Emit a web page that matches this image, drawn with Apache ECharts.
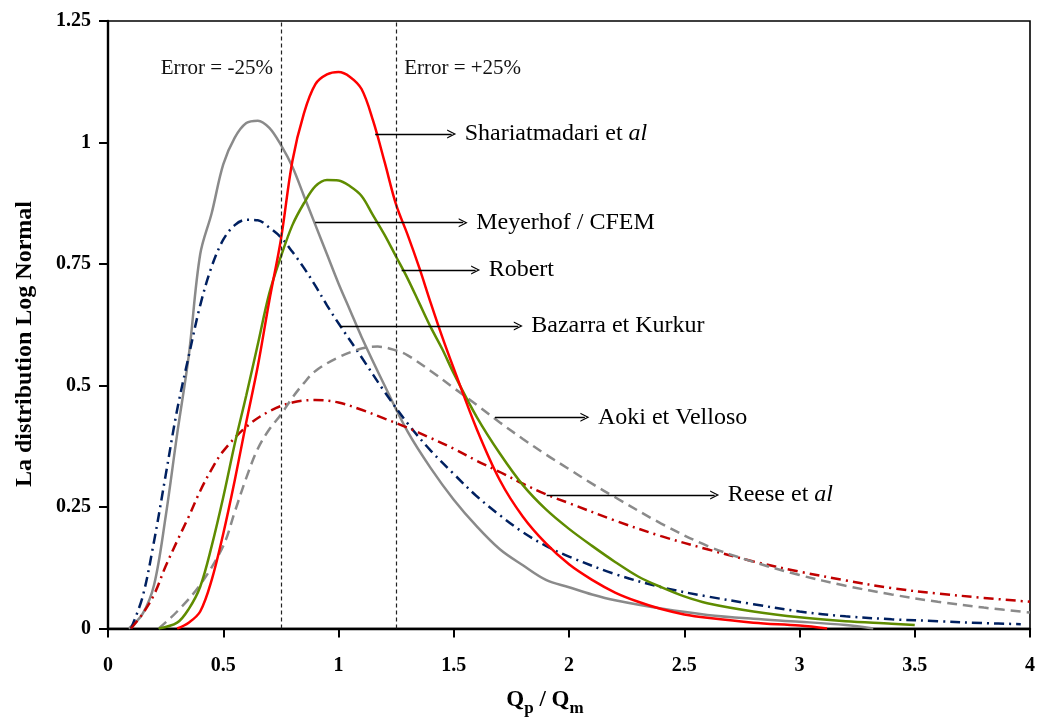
<!DOCTYPE html>
<html>
<head>
<meta charset="utf-8">
<script src="https://cdn.jsdelivr.net/npm/echarts@6/dist/echarts.min.js"></script>
<style>
html, body { margin: 0; padding: 0; background: #fff; }
#chart { width: 1038px; height: 720px; }
</style>
</head>
<body>
<div id="chart"></div>
<script>
// Meyerhof / CFEM (gris, trait plein)
const meyerhofX = [0.09, 0.15, 0.2, 0.25, 0.3, 0.35, 0.4, 0.45, 0.5, 0.55, 0.6, 0.65, 0.7, 0.75, 0.8, 0.85, 0.9, 0.95, 1.0, 1.05, 1.1, 1.2, 1.3, 1.4, 1.5, 1.6, 1.7, 1.8, 1.9, 2.0, 2.1, 2.2, 2.4, 2.6, 2.8, 3.0, 3.2, 3.32];
const meyerhofY = [0, 0.03, 0.09, 0.23, 0.40, 0.56, 0.77, 0.855, 0.955, 1.01, 1.04, 1.045, 1.03, 0.995, 0.95, 0.89, 0.83, 0.77, 0.71, 0.655, 0.60, 0.50, 0.405, 0.33, 0.265, 0.21, 0.163, 0.13, 0.1, 0.085, 0.07, 0.058, 0.041, 0.028, 0.02, 0.014, 0.007, 0];

// Shariatmadari et al (rouge)
const shariatX = [0.3, 0.35, 0.4, 0.45, 0.5, 0.55, 0.6, 0.65, 0.7, 0.75, 0.8, 0.85, 0.9, 0.95, 1.0, 1.05, 1.1, 1.15, 1.2, 1.25, 1.3, 1.35, 1.4, 1.45, 1.5, 1.6, 1.7, 1.8, 1.9, 2.0, 2.1, 2.2, 2.3, 2.4, 2.5, 2.6, 2.8, 3.0, 3.12];
const shariatY = [0, 0.012, 0.035, 0.10, 0.195, 0.305, 0.425, 0.54, 0.675, 0.80, 0.962, 1.06, 1.12, 1.14, 1.145, 1.135, 1.11, 1.045, 0.96, 0.872, 0.81, 0.743, 0.67, 0.60, 0.535, 0.41, 0.305, 0.23, 0.175, 0.132, 0.1, 0.074, 0.055, 0.04, 0.029, 0.022, 0.012, 0.006, 0];

// Robert (vert)
const robertX = [0.22, 0.3, 0.35, 0.4, 0.45, 0.5, 0.55, 0.6, 0.65, 0.7, 0.75, 0.8, 0.85, 0.9, 0.95, 1.0, 1.05, 1.1, 1.15, 1.2, 1.25, 1.3, 1.35, 1.4, 1.45, 1.5, 1.6, 1.7, 1.8, 1.9, 2.0, 2.1, 2.2, 2.3, 2.4, 2.5, 2.6, 2.8, 3.0, 3.2, 3.4, 3.5];
const robertY = [0, 0.012, 0.04, 0.086, 0.17, 0.27, 0.38, 0.48, 0.585, 0.69, 0.765, 0.83, 0.875, 0.91, 0.923, 0.922, 0.91, 0.89, 0.85, 0.81, 0.765, 0.72, 0.67, 0.62, 0.575, 0.525, 0.435, 0.36, 0.295, 0.245, 0.205, 0.17, 0.137, 0.107, 0.085, 0.066, 0.052, 0.035, 0.023, 0.015, 0.01, 0.007];

// Bazarra et Kurkur (bleu, tiret-point)
const bazarraX = [0.1, 0.15, 0.2, 0.25, 0.3, 0.35, 0.4, 0.45, 0.5, 0.55, 0.6, 0.65, 0.7, 0.75, 0.8, 0.85, 0.9, 0.95, 1.0, 1.1, 1.2, 1.3, 1.4, 1.5, 1.6, 1.7, 1.8, 1.9, 2.0, 2.2, 2.4, 2.6, 2.8, 3.0, 3.2, 3.4, 3.6, 3.8, 3.96];
const bazarraY = [0, 0.065, 0.18, 0.315, 0.45, 0.56, 0.665, 0.745, 0.8, 0.83, 0.841, 0.84, 0.825, 0.805, 0.775, 0.742, 0.705, 0.665, 0.628, 0.558, 0.487, 0.422, 0.366, 0.318, 0.272, 0.233, 0.198, 0.17, 0.148, 0.112, 0.085, 0.066, 0.05, 0.035, 0.025, 0.019, 0.015, 0.011, 0.009];

// Aoki et Velloso (gris, tirets)
const aokiX = [0.22, 0.3, 0.4, 0.5, 0.55, 0.6, 0.65, 0.7, 0.75, 0.8, 0.85, 0.9, 1.0, 1.1, 1.17, 1.25, 1.3, 1.4, 1.5, 1.6, 1.7, 1.8, 1.9, 2.0, 2.1, 2.2, 2.4, 2.6, 2.8, 3.0, 3.2, 3.4, 3.6, 3.8, 4.0];
const aokiY = [0, 0.035, 0.09, 0.17, 0.24, 0.31, 0.37, 0.41, 0.44, 0.475, 0.505, 0.53, 0.558, 0.576, 0.58, 0.572, 0.562, 0.53, 0.495, 0.46, 0.424, 0.39, 0.358, 0.328, 0.298, 0.27, 0.216, 0.17, 0.137, 0.11, 0.088, 0.07, 0.055, 0.043, 0.033];

// Reese et al (rouge foncé, tiret-point)
const reeseX = [0.1, 0.15, 0.2, 0.25, 0.3, 0.35, 0.4, 0.45, 0.5, 0.6, 0.7, 0.8, 0.9, 1.0, 1.1, 1.2, 1.3, 1.4, 1.5, 1.6, 1.7, 1.8, 1.9, 2.0, 2.2, 2.4, 2.6, 2.8, 3.0, 3.2, 3.4, 3.6, 3.8, 4.0];
const reeseY = [0, 0.03, 0.07, 0.128, 0.18, 0.23, 0.283, 0.328, 0.365, 0.415, 0.447, 0.465, 0.47, 0.465, 0.45, 0.432, 0.413, 0.392, 0.37, 0.345, 0.322, 0.298, 0.276, 0.258, 0.222, 0.19, 0.163, 0.138, 0.117, 0.099, 0.083, 0.072, 0.063, 0.055];

const xTicks = [0, 4, 0.5];      // min, max, interval
const yTicks = [0, 1.25, 0.25];
const errorBounds = [0.75, 1.25];

// flèches : [x début, x fin, y, texte]
const callouts = [
    [1.159, 1.491, 1.0175, 'Shariatmadari et {i|al}'],
    [0.899, 1.541, 0.835, 'Meyerhof / CFEM'],
    [1.274, 1.595, 0.7377, 'Robert'],
    [1.007, 1.780, 0.6224, 'Bazarra et Kurkur'],
    [1.679, 2.069, 0.4346, 'Aoki et Velloso'],
    [1.903, 2.632, 0.2747, 'Reese et {i|al}']
];

const serif = '"Liberation Serif", "Times New Roman", serif';
const arrowHead = 'path://M0,10 L5,0 L10,10 L8.6,10 L5,2.8 L1.4,10 Z';

function zip(xs, ys) {
    return xs.map((x, i) => [x, ys[i]]);
}

function curve(name, xs, ys, color, type, width) {
    return {
        name: name,
        type: 'line',
        data: zip(xs, ys),
        smooth: 0.35,
        symbol: 'none',
        lineStyle: { color: color, width: width || 2.5, type: type || 'solid' },
        z: 3
    };
}

const chart = echarts.init(document.getElementById('chart'));

const option = {
    backgroundColor: '#fff',
    animation: false,
    grid: {
        left: 108, right: 7, top: 21, bottom: 91.5,
        show: true, borderColor: '#000', borderWidth: 1.6
    },
    xAxis: {
        type: 'value',
        min: xTicks[0], max: xTicks[1], interval: xTicks[2],
        axisLine: { show: true, onZero: false, lineStyle: { color: '#000', width: 2.4 } },
        axisTick: { show: true, length: 9, lineStyle: { color: '#000', width: 2 } },
        axisLabel: { color: '#000', fontFamily: serif, fontWeight: 'bold', fontSize: 20, margin: 27 },
        splitLine: { show: false }
    },
    yAxis: {
        type: 'value',
        min: yTicks[0], max: yTicks[1], interval: yTicks[2],
        axisLine: { show: true, lineStyle: { color: '#000', width: 2.4 } },
        axisTick: { show: true, length: 9, lineStyle: { color: '#000', width: 2 } },
        axisLabel: { color: '#000', fontFamily: serif, fontWeight: 'bold', fontSize: 20, margin: 17 },
        splitLine: { show: false }
    },
    series: [
        curve('Meyerhof / CFEM', meyerhofX, meyerhofY, '#8a8a8a'),
        curve('Bazarra et Kurkur', bazarraX, bazarraY, '#002060', [10, 5, 2, 5]),
        curve('Reese et al', reeseX, reeseY, '#c00000', [10, 5, 2, 5]),
        curve('Aoki et Velloso', aokiX, aokiY, '#8a8a8a', [10, 6]),
        curve('Robert', robertX, robertY, '#5f8c00'),
        curve('Shariatmadari et al', shariatX, shariatY, '#ff0000'),
        {
            name: 'annotations',
            type: 'line',
            data: [],
            silent: true,
            markLine: {
                silent: true,
                animation: false,
                symbol: ['none', 'none'],
                lineStyle: { color: '#222', width: 1.2, type: [4, 3] },
                label: { show: false },
                data: errorBounds.map(v => ({ xAxis: v }))
            },
            markPoint: {
                silent: true,
                symbol: 'circle',
                symbolSize: 0,
                data: [
                    { coord: [errorBounds[0], 1.153], label: { show: true, position: 'left', distance: 8, formatter: 'Error = -25%' } },
                    { coord: [errorBounds[1], 1.153], label: { show: true, position: 'right', distance: 8, formatter: 'Error = +25%' } }
                ],
                label: { color: '#111', fontFamily: serif, fontSize: 21 }
            }
        },
        {
            name: 'fleches',
            type: 'line',
            data: [],
            silent: true,
            markLine: {
                silent: true,
                animation: false,
                symbol: ['none', arrowHead],
                symbolSize: [9, 9],
                lineStyle: { color: '#000', width: 1.3, type: 'solid' },
                label: {
                    show: true,
                    position: 'end',
                    distance: 13,
                    color: '#000',
                    fontFamily: serif,
                    fontSize: 24,
                    rich: { i: { fontStyle: 'italic', fontFamily: serif, fontSize: 24, color: '#000' } }
                },
                data: callouts.map(c => [
                    { coord: [c[0], c[2]], label: { formatter: c[3] } },
                    { coord: [c[1], c[2]] }
                ])
            }
        }
    ],
    graphic: [
        {
            type: 'text',
            x: 25, y: 344,
            rotation: Math.PI / 2,
            style: {
                text: 'La distribution Log Normal',
                fontFamily: serif, fontWeight: 'bold', fontSize: 24,
                fill: '#000', align: 'center', verticalAlign: 'middle'
            }
        },
        {
            type: 'text',
            x: 545, y: 700,
            style: {
                text: '{q|Q}{s|p}{q| / Q}{s|m}',
                align: 'center', verticalAlign: 'middle',
                rich: {
                    q: { fontFamily: serif, fontWeight: 'bold', fontSize: 23, fill: '#000', verticalAlign: 'bottom' },
                    s: { fontFamily: serif, fontWeight: 'bold', fontSize: 17, fill: '#000', verticalAlign: 'bottom', padding: [0, 0, -6, 0] }
                }
            }
        }
    ]
};

chart.setOption(option);
window.addEventListener('resize', () => chart.resize());
</script>
</body>
</html>
